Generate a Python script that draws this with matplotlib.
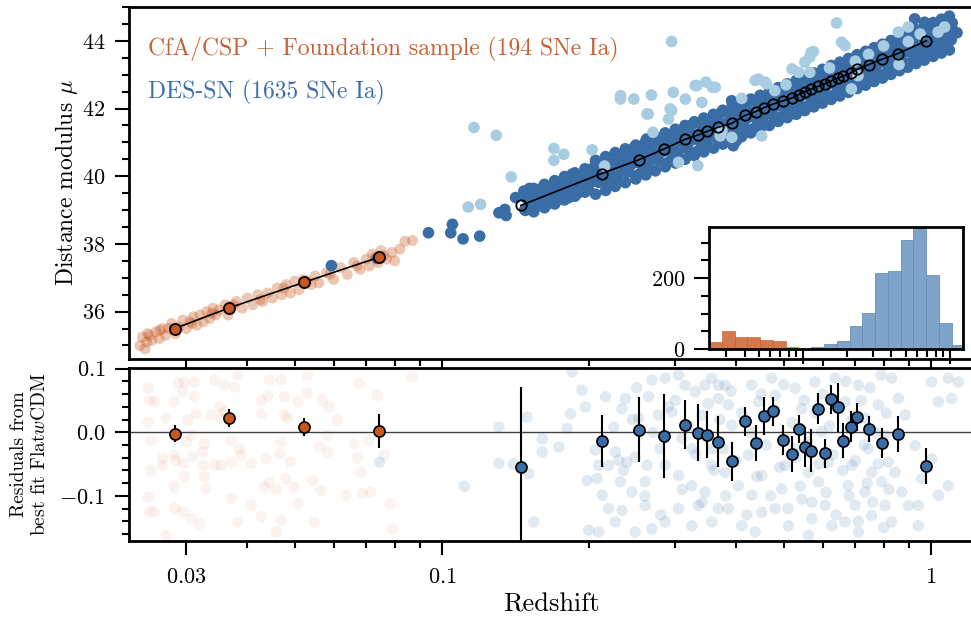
import numpy as np
import matplotlib
matplotlib.use("Agg")
import matplotlib.pyplot as plt
from matplotlib.ticker import FixedLocator, MultipleLocator, FuncFormatter, NullFormatter

plt.rcParams.update({
    "font.family": "serif",
    "font.serif": ["cmr10"],
    "mathtext.fontset": "cm",
    "axes.formatter.use_mathtext": True,
})

ORANGE = "#c8571e"
BLUE = "#3a6ca5"
LIGHT = "#a8cce2"

# ---------------- data ----------------
# low-z sample, Hubble diagram
low_z = [0.0241, 0.0244, 0.0247, 0.0249, 0.0252, 0.0255, 0.026, 0.0264, 0.0268, 0.0272,
         0.0276, 0.028, 0.0285, 0.029, 0.0295, 0.030, 0.0305, 0.031, 0.0315, 0.032,
         0.0325, 0.033, 0.0335, 0.034, 0.0345, 0.035, 0.036, 0.0365, 0.037, 0.038,
         0.039, 0.040, 0.041, 0.042, 0.043, 0.044, 0.045, 0.046, 0.047, 0.048,
         0.049, 0.050, 0.051, 0.052, 0.054, 0.055, 0.056, 0.058, 0.060, 0.062,
         0.064, 0.066, 0.068, 0.070, 0.071, 0.072, 0.074, 0.075, 0.077, 0.079,
         0.080, 0.082, 0.084, 0.087, 0.025, 0.0265, 0.0283, 0.0308, 0.0338, 0.0375,
         0.0425, 0.0475, 0.053, 0.059, 0.067, 0.073, 0.076]
low_mu = [35.0, 35.25, 34.9, 35.1, 35.3, 35.15, 35.4, 35.2, 35.5, 35.3,
          35.5, 35.65, 35.35, 35.55, 35.75, 35.5, 35.7, 35.85, 35.6, 35.9,
          35.7, 36.0, 35.8, 36.1, 35.9, 36.05, 36.2, 35.9, 36.15, 36.3,
          36.1, 36.4, 36.2, 36.5, 36.3, 36.55, 36.4, 36.7, 36.5, 36.8,
          36.55, 36.9, 36.65, 36.95, 36.8, 37.05, 36.85, 37.15, 36.95, 37.3,
          37.1, 37.45, 37.25, 37.55, 37.35, 37.7, 37.45, 37.8, 37.55, 37.75,
          37.5, 37.85, 38.08, 38.1, 35.35, 35.45, 35.5, 35.65, 35.95, 36.2,
          36.35, 36.7, 36.9, 37.1, 37.35, 37.6, 37.65]

# DES-SN, high-probability points (dark)
des_z = [0.148, 0.152, 0.149, 0.153, 0.156, 0.160, 0.157, 0.161, 0.164, 0.168, 0.165, 0.169,
         0.172, 0.176, 0.173, 0.177, 0.181, 0.185, 0.182, 0.186, 0.190, 0.194, 0.191, 0.195,
         0.199, 0.203, 0.200, 0.204, 0.209, 0.213, 0.210, 0.214, 0.219, 0.223, 0.220, 0.224,
         0.229, 0.234, 0.231, 0.236, 0.240, 0.245, 0.242, 0.247, 0.252, 0.257, 0.254, 0.259,
         0.264, 0.269, 0.266, 0.271, 0.277, 0.282, 0.279, 0.284, 0.290, 0.295, 0.292, 0.297,
         0.304, 0.309, 0.306, 0.311, 0.318, 0.323, 0.320, 0.325, 0.333, 0.338, 0.335, 0.340,
         0.348, 0.353, 0.350, 0.355, 0.364, 0.369, 0.366, 0.371, 0.380, 0.387, 0.383, 0.389,
         0.397, 0.404, 0.400, 0.406, 0.415, 0.422, 0.418, 0.424, 0.434, 0.441, 0.437, 0.443,
         0.453, 0.460, 0.456, 0.462, 0.473, 0.480, 0.476, 0.482, 0.493, 0.501, 0.497, 0.504,
         0.514, 0.522, 0.518, 0.525, 0.536, 0.544, 0.540, 0.547, 0.559, 0.567, 0.563, 0.570,
         0.582, 0.591, 0.587, 0.595, 0.607, 0.616, 0.612, 0.620, 0.632, 0.641, 0.637, 0.645,
         0.658, 0.668, 0.664, 0.673, 0.685, 0.696, 0.691, 0.700, 0.713, 0.724, 0.719, 0.728,
         0.742, 0.754, 0.749, 0.759, 0.772, 0.784, 0.779, 0.789, 0.804, 0.816, 0.811, 0.821,
         0.836, 0.849, 0.844, 0.855, 0.870, 0.884, 0.878, 0.889, 0.905, 0.919, 0.913, 0.924,
         0.940, 0.955, 0.949, 0.961, 0.978, 0.993, 0.987, 0.999, 1.02, 1.035, 1.028, 1.04,
         1.06, 1.075, 1.068, 1.08, 1.10, 1.115, 1.105,
         0.0594, 0.0737, 0.0938, 0.1050, 0.1042, 0.1104, 0.1194, 0.1307, 0.1344, 0.1352,
         0.1414, 0.1470, 0.1510, 0.1477, 0.1602, 0.1606, 0.1706, 0.1732, 0.1817, 0.1845,
         0.1904, 0.1966, 0.2027, 0.2158, 0.2123, 0.2227, 0.2297, 0.2407, 0.2445, 0.2560,
         0.2621, 0.2560, 0.926, 0.970, 1.09, 1.13, 1.05, 1.02, 0.394, 0.390, 0.400, 0.391,
         0.154, 0.154, 0.154, 0.162, 0.162, 0.162, 0.170, 0.170, 0.170, 0.178, 0.178, 0.178,
         0.187, 0.187, 0.187, 0.196, 0.196, 0.196, 0.206, 0.206, 0.206, 0.216, 0.216, 0.216,
         0.226, 0.226, 0.226, 0.237, 0.237, 0.237, 0.249, 0.249, 0.249, 0.261, 0.261, 0.261,
         0.273, 0.273, 0.273, 0.286, 0.286, 0.286, 0.300, 0.300, 0.300, 0.314, 0.314, 0.314,
         0.328, 0.328, 0.328, 0.343, 0.343, 0.343, 0.359, 0.359, 0.359, 0.375, 0.375, 0.375,
         0.392, 0.392, 0.392, 0.410, 0.410, 0.410, 0.428, 0.428, 0.428, 0.447, 0.447, 0.447,
         0.467, 0.467, 0.467, 0.487, 0.487, 0.487, 0.508, 0.508, 0.508, 0.530, 0.530, 0.530,
         0.552, 0.552, 0.552, 0.576, 0.576, 0.576, 0.600, 0.600, 0.600, 0.625, 0.625, 0.625,
         0.651, 0.651, 0.651, 0.678, 0.678, 0.678, 0.706, 0.706, 0.706, 0.735, 0.735, 0.735,
         0.765, 0.765, 0.765, 0.796, 0.796, 0.796, 0.828, 0.828, 0.828, 0.862, 0.862, 0.862,
         0.896, 0.896, 0.896, 0.932, 0.932, 0.932, 0.969, 0.969, 0.969, 1.01, 1.01, 1.01,
         1.05, 1.05, 1.05, 1.09, 1.09, 1.09]
des_mu = [38.99, 39.17, 39.34, 39.50, 39.18, 39.35, 39.53, 39.68, 39.17, 39.36, 39.52, 39.69,
          39.34, 39.52, 39.69, 39.85, 39.53, 39.70, 39.88, 40.03, 39.51, 39.70, 39.86, 40.03,
          39.63, 39.84, 40.06, 40.25, 39.82, 40.04, 40.25, 40.44, 39.78, 40.00, 40.21, 40.40,
          39.90, 40.15, 40.40, 40.63, 40.12, 40.37, 40.62, 40.84, 40.05, 40.31, 40.55, 40.78,
          40.25, 40.50, 40.75, 40.98, 40.47, 40.72, 40.97, 41.19, 40.41, 40.67, 40.91, 41.14,
          40.60, 40.85, 41.10, 41.33, 40.81, 41.06, 41.31, 41.53, 40.74, 41.00, 41.24, 41.47,
          40.93, 41.18, 41.43, 41.66, 41.14, 41.39, 41.64, 41.86, 41.08, 41.34, 41.58, 41.81,
          41.27, 41.52, 41.77, 42.00, 41.48, 41.73, 41.98, 42.20, 41.41, 41.67, 41.91, 42.14,
          41.60, 41.85, 42.10, 42.33, 41.81, 42.06, 42.31, 42.53, 41.75, 42.01, 42.25, 42.48,
          41.93, 42.18, 42.43, 42.66, 42.14, 42.39, 42.64, 42.86, 42.07, 42.33, 42.57, 42.80,
          42.26, 42.51, 42.76, 42.99, 42.47, 42.72, 42.97, 43.19, 42.39, 42.65, 42.89, 43.12,
          42.58, 42.83, 43.08, 43.31, 42.79, 43.04, 43.29, 43.51, 42.71, 42.97, 43.21, 43.44,
          42.90, 43.15, 43.40, 43.63, 43.10, 43.35, 43.60, 43.82, 43.03, 43.29, 43.53, 43.76,
          43.22, 43.47, 43.72, 43.95, 43.42, 43.67, 43.92, 44.14, 43.35, 43.61, 43.85, 44.08,
          43.53, 43.78, 44.03, 44.26, 43.74, 43.99, 44.24, 44.46, 43.66, 43.92, 44.16, 44.39,
          43.84, 44.09, 44.34, 44.57, 44.03, 44.28, 44.53,
          37.36, 37.57, 38.33, 38.58, 38.33, 38.15, 38.23, 38.92, 39.02, 38.84,
          39.37, 39.56, 39.64, 39.02, 39.42, 39.12, 39.24, 39.64, 39.37, 40.06,
          39.91, 39.76, 40.01, 39.81, 40.26, 40.31, 40.55, 40.16, 40.70, 40.80,
          41.10, 40.36, 44.65, 44.55, 44.45, 44.24, 43.91, 43.71, 40.90, 41.00, 41.05, 42.23,
          38.95, 39.30, 39.64, 39.07, 39.42, 39.76, 39.18, 39.53, 39.87, 39.30, 39.65, 39.99,
          39.41, 39.76, 40.10, 39.53, 39.88, 40.22, 39.47, 39.97, 40.47, 39.58, 40.08, 40.58,
          39.70, 40.20, 40.70, 39.81, 40.31, 40.81, 39.92, 40.42, 40.92, 40.04, 40.54, 41.04,
          40.16, 40.66, 41.16, 40.28, 40.78, 41.28, 40.39, 40.89, 41.39, 40.50, 41.00, 41.50,
          40.61, 41.11, 41.61, 40.72, 41.22, 41.72, 40.83, 41.33, 41.83, 40.95, 41.45, 41.95,
          41.06, 41.56, 42.06, 41.17, 41.67, 42.17, 41.28, 41.78, 42.28, 41.39, 41.89, 42.39,
          41.50, 42.00, 42.50, 41.62, 42.12, 42.62, 41.73, 42.23, 42.73, 41.83, 42.33, 42.83,
          41.94, 42.44, 42.94, 42.05, 42.55, 43.05, 42.16, 42.66, 43.16, 42.27, 42.77, 43.27,
          42.37, 42.87, 43.37, 42.48, 42.98, 43.48, 42.59, 43.09, 43.59, 42.69, 43.19, 43.69,
          42.80, 43.30, 43.80, 42.90, 43.40, 43.90, 43.01, 43.51, 44.01, 43.12, 43.62, 44.12,
          43.22, 43.72, 44.22, 43.33, 43.83, 44.33, 43.43, 43.93, 44.43, 43.54, 44.04, 44.54,
          43.64, 44.14, 44.64, 43.73, 44.23, 44.73]

# DES-SN, lower-probability points (light)
light_z = [0.1162, 0.1291, 0.1385, 0.1131, 0.1199, 0.1693, 0.1774, 0.1693, 0.2027, 0.2316,
           0.2467, 0.2625, 0.2318, 0.268, 0.2972, 0.2640, 0.3144, 0.3320, 0.3465, 0.3620,
           0.3399, 0.2948, 0.2905, 0.3045, 0.3335, 0.3706, 0.3914, 0.4504, 0.4438, 0.4611,
           0.4792, 0.5361, 0.5197, 0.5519, 0.5650, 0.3736, 0.641, 0.5748, 0.6561, 0.565,
           1.034, 0.8983, 0.6873, 0.709, 0.2948, 0.2926, 0.3295, 0.357, 0.4369, 0.4578,
           0.569, 0.667, 0.857, 0.898, 1.066, 0.745, 0.80, 0.95, 0.62, 0.505,
           0.41, 0.27, 0.215, 0.70, 0.86]
light_mu = [41.44, 41.21, 39.98, 39.09, 39.17, 40.82, 40.65, 40.47, 40.78, 42.28,
            42.28, 41.84, 42.38, 42.40, 42.48, 41.84, 42.28, 42.68, 42.78, 42.63,
            42.18, 41.94, 41.69, 40.41, 40.31, 41.19, 41.15, 41.19, 42.87, 42.73,
            42.53, 43.07, 43.17, 43.37, 43.07, 41.34, 44.53, 43.68, 43.96, 43.52,
            44.26, 43.98, 42.58, 42.97, 43.98, 41.99, 42.68, 42.63, 42.83, 42.78,
            43.66, 43.86, 44.26, 44.41, 44.41, 43.60, 43.85, 44.20, 43.20, 42.70,
            42.30, 41.30, 40.30, 43.40, 43.30]

# binned distance moduli
bin_low_z = [0.0284, 0.0367, 0.0523, 0.0744]
bin_low_mu = [35.50, 36.11, 36.87, 37.61]
bin_low_res = [-0.002, 0.023, 0.008, 0.002]
bin_low_err = [0.014, 0.014, 0.014, 0.026]

bin_des_z = [0.145, 0.212, 0.253, 0.285, 0.314, 0.334, 0.349, 0.366, 0.391, 0.417,
             0.438, 0.456, 0.475, 0.498, 0.519, 0.536, 0.552, 0.568, 0.588, 0.607,
             0.624, 0.644, 0.662, 0.686, 0.707, 0.746, 0.792, 0.854, 0.978]
bin_des_mu = [39.14, 40.08, 40.49, 40.81, 41.09, 41.22, 41.33, 41.44, 41.56, 41.80,
              41.91, 42.03, 42.13, 42.23, 42.31, 42.41, 42.50, 42.57, 42.66, 42.73,
              42.81, 42.90, 42.96, 43.05, 43.16, 43.30, 43.45, 43.62, 44.00]
bin_des_res = [-0.054, -0.014, 0.004, -0.006, 0.012, -0.001, -0.004, -0.015, -0.046, 0.017,
               -0.017, 0.026, 0.033, -0.012, -0.034, 0.005, -0.023, -0.029, 0.037, -0.033,
               0.052, 0.039, -0.013, 0.009, 0.024, 0.005, -0.017, -0.003, -0.053]
bin_des_err = [0.125, 0.041, 0.051, 0.066, 0.038, 0.045, 0.037, 0.040, 0.031, 0.023,
               0.029, 0.030, 0.023, 0.024, 0.028, 0.022, 0.032, 0.034, 0.024, 0.023,
               0.023, 0.039, 0.027, 0.025, 0.022, 0.020, 0.024, 0.028, 0.028]

# residuals of individual SNe (faint points)
res_low_z = [0.02506, 0.02523, 0.02583, 0.02506, 0.02541, 0.02541, 0.02506, 0.02523, 0.02583, 0.02838,
             0.02728, 0.02884, 0.02974, 0.02951, 0.03117, 0.03117, 0.03141, 0.0302, 0.0307, 0.030,
             0.03266, 0.03243, 0.0309, 0.02951, 0.02838, 0.02857, 0.02685, 0.02685, 0.02974, 0.02838,
             0.03266, 0.03296, 0.03243, 0.03428, 0.03534, 0.03707, 0.03707, 0.03853, 0.03880, 0.04071,
             0.0359, 0.03534, 0.03767, 0.03822, 0.03428, 0.0359, 0.03373, 0.0351, 0.04266, 0.04266,
             0.04405, 0.04436, 0.04688, 0.04764, 0.04764, 0.04836, 0.04688, 0.04650, 0.04365, 0.04909,
             0.04797, 0.04436, 0.04334, 0.04581, 0.04986, 0.05070, 0.05309, 0.05309, 0.05702, 0.05877,
             0.06109, 0.05834, 0.05610, 0.05834, 0.05433, 0.05649, 0.0507, 0.04688, 0.04266, 0.04071,
             0.03707, 0.03822, 0.0307, 0.03192, 0.02838, 0.02951, 0.02728, 0.06607, 0.06714, 0.07096,
             0.07379, 0.06775, 0.06823, 0.06871, 0.07145, 0.06353, 0.07846, 0.07917, 0.07621, 0.08690,
             0.05479, 0.04581]
res_low = [0.069, 0.050, 0.048, 0.016, -0.013, -0.060, -0.102, -0.125, -0.125, 0.048,
           0.022, 0.077, 0.079, 0.064, 0.079, 0.056, 0.029, 0.019, -0.005, -0.015,
           -0.018, -0.031, -0.039, -0.049, -0.036, -0.044, -0.041, -0.052, -0.070, -0.086,
           -0.070, -0.089, -0.052, -0.052, -0.052, -0.047, -0.013, -0.026, -0.036, -0.049,
           0.032, 0.022, 0.071, 0.090, 0.082, 0.074, 0.027, 0.040, 0.050, 0.029,
           0.058, 0.082, 0.082, 0.056, 0.027, 0.022, -0.015, -0.034, -0.041, -0.047,
           -0.073, -0.078, -0.086, -0.091, -0.086, 0.048, 0.061, 0.090, 0.050, 0.040,
           0.019, -0.005, -0.023, -0.031, -0.076, -0.091, -0.112, -0.139, -0.133, -0.115,
           -0.104, -0.141, -0.136, -0.144, -0.120, -0.125, -0.162, -0.018, -0.041, -0.013,
           0.058, 0.077, -0.063, -0.097, -0.094, -0.099, -0.112, -0.152, -0.036, 0.087,
           -0.141, -0.157]

res_des_z = [0.0745, 0.111, 0.1307, 0.1307, 0.1493, 0.1505, 0.1603, 0.1603, 0.1733, 0.1802,
             0.1831, 0.1964, 0.1933, 0.1845, 0.1541, 0.2059, 0.2091, 0.1979, 0.2075, 0.2158,
             0.2244, 0.2262, 0.2192, 0.2333, 0.2370, 0.2297, 0.2388, 0.2124, 0.2192, 0.2262,
             0.1995, 0.2091, 0.2315, 0.2445, 0.2333, 0.2603, 0.2644, 0.2686, 0.2771, 0.2793,
             0.2860, 0.2624, 0.2484, 0.2523, 0.2860, 0.3045, 0.3141, 0.3293, 0.3451, 0.3561,
             0.3674, 0.2951, 0.3093, 0.3242, 0.3398, 0.3561, 0.3045, 0.3242, 0.3451, 0.3345,
             0.3045, 0.2860, 0.2686, 0.2603, 0.2484, 0.3242, 0.3561, 0.3674, 0.3561, 0.3792,
             0.3674, 0.3850, 0.3911, 0.3761, 0.3790, 0.4036, 0.3850, 0.4101, 0.4300, 0.4437,
             0.4233, 0.4507, 0.4300, 0.4507, 0.4368, 0.4724, 0.4799, 0.5030, 0.4952, 0.4799,
             0.5110, 0.5273, 0.5441, 0.5273, 0.5614, 0.5441, 0.5703, 0.5614, 0.5793, 0.5978,
             0.6169, 0.5885, 0.6073, 0.6266, 0.6366, 0.6672, 0.6672, 0.6884, 0.6777, 0.6993,
             0.6672, 0.7104, 0.7330, 0.7446, 0.7564, 0.7330, 0.7564, 0.7104, 0.7804, 0.8053,
             0.8180, 0.7928, 0.8053, 0.8310, 0.8575, 0.8441, 0.8710, 0.8310, 0.8849, 0.9274,
             0.9570, 0.8988, 0.9421, 1.0032, 1.0350, 1.0849, 1.1020, 1.0849, 1.0350, 1.1374,
             1.0032, 0.9421, 0.14,
             0.30, 0.31, 0.32, 0.33, 0.34, 0.35, 0.36, 0.37, 0.38, 0.39,
             0.40, 0.41, 0.42, 0.43, 0.44, 0.45, 0.46, 0.47, 0.48, 0.49,
             0.50, 0.51, 0.52, 0.53, 0.54, 0.55, 0.56, 0.57, 0.58, 0.59,
             0.60, 0.61, 0.62, 0.63, 0.64, 0.65, 0.66, 0.67, 0.68, 0.69,
             0.70, 0.71, 0.72, 0.73, 0.74, 0.75, 0.76, 0.77, 0.78, 0.79,
             0.80, 0.81, 0.82, 0.25, 0.26, 0.27, 0.28, 0.29, 0.235, 0.245]
res_des = [-0.047, -0.085, 0.008, -0.049, 0.024, -0.065, -0.010, -0.031, -0.023, 0.006,
           0.029, 0.040, 0.066, 0.095, -0.141, -0.028, -0.052, -0.076, -0.073, 0.056,
           0.008, -0.031, -0.052, 0.037, 0.053, -0.044, -0.047, -0.099, -0.120, -0.141,
           -0.154, -0.157, -0.078, -0.094, -0.123, -0.078, 0.056, 0.082, 0.027, -0.026,
           -0.052, -0.052, -0.039, 0.022, 0.085, 0.090, 0.074, 0.064, 0.074, 0.085,
           0.053, 0.032, -0.010, -0.026, 0.027, -0.052, -0.068, -0.084, -0.094, -0.115,
           -0.120, -0.141, -0.152, -0.115, -0.157, -0.147, -0.141, -0.120, -0.026, 0.074,
           0.074, 0.043, 0.011, -0.026, -0.063, -0.084, -0.120, -0.147, 0.074, 0.048,
           -0.036, -0.068, -0.099, -0.126, -0.157, 0.085, 0.058, -0.052, -0.089, -0.120,
           -0.147, 0.069, 0.037, -0.026, -0.063, -0.105, -0.136, -0.162, 0.079, 0.001,
           -0.047, -0.078, -0.115, -0.147, 0.085, 0.048, -0.015, -0.052, -0.084, -0.115,
           -0.141, 0.074, 0.022, -0.026, -0.063, -0.094, -0.131, -0.157, 0.043, -0.005,
           -0.047, -0.078, -0.115, 0.085, 0.053, -0.063, -0.094, -0.141, 0.027, -0.021,
           -0.073, -0.115, -0.147, 0.079, 0.048, 0.085, 0.053, -0.084, -0.099, 0.079,
           -0.042, -0.115, -0.050,
           0.050, -0.090, 0.010, -0.035, -0.110, 0.045, -0.060, 0.020, -0.100, 0.065,
           -0.045, 0.030, -0.130, 0.000, -0.070, 0.060, -0.020, -0.100, 0.035, -0.055,
           0.075, -0.120, 0.015, -0.040, -0.085, 0.050, -0.015, -0.110, 0.030, -0.050,
           0.060, -0.095, 0.010, -0.035, -0.130, 0.040, -0.060, 0.080, -0.100, 0.020,
           -0.045, -0.140, 0.050, -0.020, -0.080, 0.070, -0.110, 0.000, -0.050, 0.090,
           -0.150, 0.030, -0.090, 0.070, -0.100, 0.000, -0.130, 0.040, -0.060, 0.020]

# redshift histogram (counts per log bin)
hist_low = [19, 52, 35, 33, 26, 22, 7]
hist_des = [1, 6, 13, 23, 66, 102, 213, 221, 306, 391, 209, 74, 10]

XLIM = (0.0229, 1.23)

# ---------------- figure ----------------
W, H = 971, 619
fig = plt.figure(figsize=(W / 100, H / 100), dpi=100)


def rect(l, t, r, b):
    return [l / W, 1 - b / H, (r - l) / W, (b - t) / H]


ax_top = fig.add_axes(rect(129, 7, 975, 359))
ax_bot = fig.add_axes(rect(129, 368, 975, 541))
ax_in = fig.add_axes(rect(709, 227, 963, 349))

mathfmt1 = FuncFormatter(lambda v, p: "$%.1f$" % v if abs(v) > 1e-9 else "$0.0$")
mathfmt0 = FuncFormatter(lambda v, p: "$%d$" % round(v))
xfmt = FuncFormatter(lambda v, p: "$%g$" % v)

# top: Hubble diagram
ax_top.scatter(low_z, low_mu, s=62, color=ORANGE, alpha=0.33, edgecolors="none", zorder=1)
ax_top.scatter(des_z, des_mu, s=70, color=BLUE, edgecolors="none", zorder=2)
ax_top.scatter(light_z, light_mu, s=70, color=LIGHT, edgecolors="none", zorder=3)
ax_top.plot(bin_low_z, bin_low_mu, "-o", color="k", lw=1.2, ms=8, mfc=ORANGE, mec="k", mew=1.3, zorder=5)
ax_top.plot(bin_des_z, bin_des_mu, "-o", color="k", lw=1.2, ms=7.5, mfc="none", mec="k", mew=1.3, zorder=5)
ax_top.text(0.0225, 0.878, "CfA/CSP + Foundation sample (194 SNe Ia)", transform=ax_top.transAxes,
            color="#c46234", fontsize=17, va="center", ha="left")
ax_top.text(0.0225, 0.758, "DES-SN (1635 SNe Ia)", transform=ax_top.transAxes,
            color="#3d6ea8", fontsize=17, va="center", ha="left")
ax_top.set_ylim(34.6, 45.0)
ax_top.yaxis.set_major_locator(FixedLocator([36, 38, 40, 42, 44]))
ax_top.yaxis.set_minor_locator(MultipleLocator(0.5))
ax_top.yaxis.set_major_formatter(mathfmt0)
ax_top.set_ylabel(r"Distance modulus $\mu$", fontsize=17)
ax_top.yaxis.set_label_coords(-0.058, 0.5)

# bottom: residuals
ax_bot.scatter(res_low_z, res_low, s=68, color=ORANGE, alpha=0.07, edgecolors="none", zorder=1)
ax_bot.scatter(res_des_z, res_des, s=68, color=BLUE, alpha=0.15, edgecolors="none", zorder=1)
ax_bot.axhline(0, color="#404040", lw=1.0, zorder=2)
ax_bot.errorbar(bin_low_z, bin_low_res, yerr=bin_low_err, fmt="o", ms=8, mfc=ORANGE, mec="k",
                mew=1.2, ecolor="k", elinewidth=1.5, capsize=0, zorder=5)
ax_bot.errorbar(bin_des_z, bin_des_res, yerr=bin_des_err, fmt="o", ms=8, mfc=BLUE, mec="k",
                mew=1.2, ecolor="k", elinewidth=1.5, capsize=0, zorder=5)
ax_bot.set_ylim(-0.171, 0.101)
ax_bot.yaxis.set_major_locator(FixedLocator([-0.1, 0.0, 0.1]))
ax_bot.yaxis.set_minor_locator(MultipleLocator(0.02))
ax_bot.yaxis.set_major_formatter(mathfmt1)
ax_bot.set_ylabel("Residuals from\n" + r"best fit Flat$w$CDM", fontsize=14, linespacing=1.2)
ax_bot.yaxis.set_label_coords(-0.095, 0.5)
ax_bot.set_xlabel("Redshift", fontsize=19)
ax_bot.xaxis.set_label_coords(0.499, -0.30)

minor_x = [0.04, 0.05, 0.06, 0.07, 0.08, 0.09, 0.2, 0.3, 0.4, 0.5, 0.6, 0.7, 0.8, 0.9]
for ax in (ax_top, ax_bot):
    ax.set_xscale("log")
    ax.set_xlim(*XLIM)
    ax.xaxis.set_major_locator(FixedLocator([0.03, 0.1, 1.0]))
    ax.xaxis.set_minor_locator(FixedLocator(minor_x))
    ax.xaxis.set_major_formatter(xfmt)
    ax.xaxis.set_minor_formatter(NullFormatter())
    ax.tick_params(which="major", direction="out", length=10, width=1.5, labelsize=16)
    ax.tick_params(which="minor", direction="out", length=5, width=1.5)
    ax.tick_params(axis="y", pad=7)
    ax.tick_params(axis="x", pad=9)
    for s in ax.spines.values():
        s.set_linewidth(2)
    ax.spines["right"].set_visible(False)
ax_top.tick_params(labelbottom=False)

# inset: redshift histogram
edges = np.logspace(np.log10(0.0229), np.log10(0.0229) + 20 * 0.087, 21)
n_low = len(hist_low)
ax_in.bar(edges[:n_low], hist_low, width=np.diff(edges)[:n_low], align="edge",
          color="#d3794b", edgecolor="#c8571e", linewidth=0.4)
ax_in.bar(edges[n_low:-1], hist_des, width=np.diff(edges)[n_low:], align="edge",
          color="#7fa3c9", edgecolor="#6a8fba", linewidth=0.6)
ax_in.set_xscale("log")
ax_in.set_xlim(*XLIM)
ax_in.set_ylim(0, 344)
ax_in.yaxis.set_major_locator(FixedLocator([0, 200]))
ax_in.yaxis.set_minor_locator(MultipleLocator(50))
ax_in.yaxis.set_major_formatter(mathfmt0)
ax_in.xaxis.set_major_locator(FixedLocator([0.1, 1.0]))
ax_in.xaxis.set_minor_locator(FixedLocator([0.03] + minor_x))
ax_in.xaxis.set_major_formatter(NullFormatter())
ax_in.xaxis.set_minor_formatter(NullFormatter())
ax_in.tick_params(which="major", direction="out", length=11, width=1.5, labelsize=16, pad=6)
ax_in.tick_params(which="minor", direction="out", length=6, width=1.5)
for s in ax_in.spines.values():
    s.set_linewidth(2)

fig.savefig("out.png", dpi=100)
